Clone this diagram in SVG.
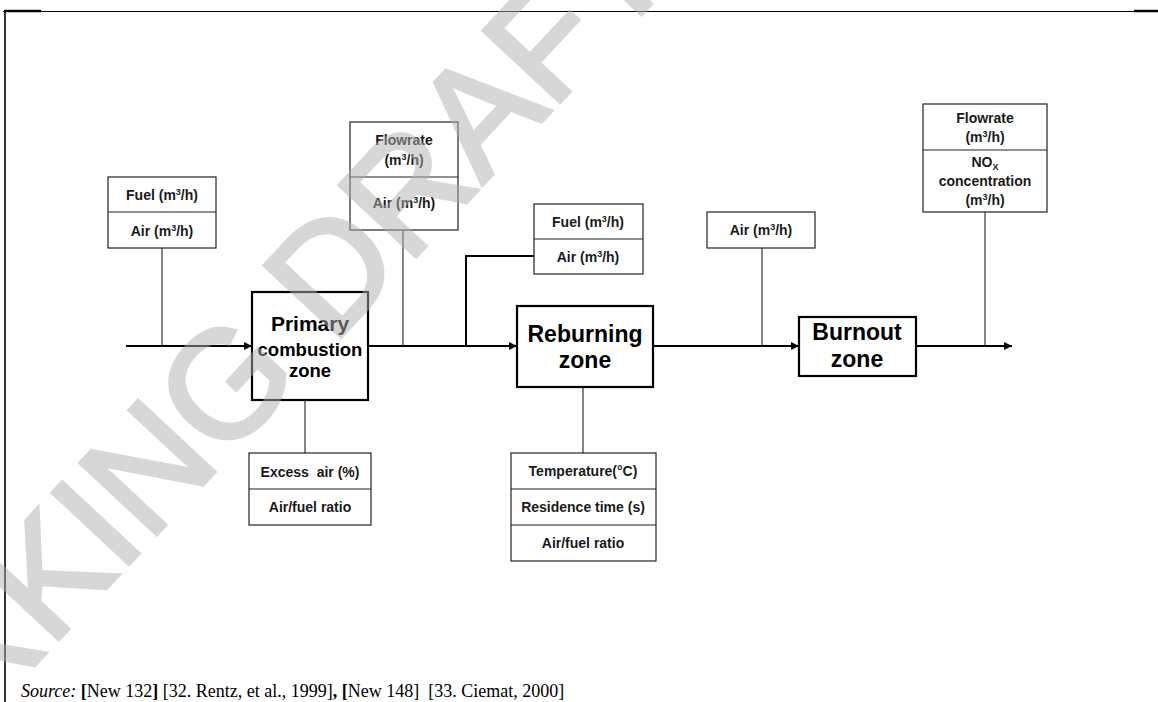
<svg xmlns="http://www.w3.org/2000/svg" width="1158" height="702" viewBox="0 0 1158 702">
<defs>
<marker id="arr" viewBox="0 0 10 10" refX="10" refY="5" markerWidth="10" markerHeight="8" markerUnits="userSpaceOnUse" orient="auto">
<path d="M0,0 L10,5 L0,10 z" fill="#000"/>
</marker>
<style>
.box{fill:#fff;stroke:#222;stroke-width:1.2}
.zone{fill:#fff;stroke:#000;stroke-width:2.2}
.div{stroke:#222;stroke-width:1.2}
.t{font-family:"Liberation Sans",Arial,sans-serif;font-weight:bold;font-size:14px;fill:#1a1a1a;text-anchor:middle}
.z{font-family:"Liberation Sans",Arial,sans-serif;font-weight:bold;fill:#000;text-anchor:middle}
.sup{font-size:9px}
.main{stroke:#000;stroke-width:2;fill:none}
.thin{stroke:#222;stroke-width:1.1;fill:none}
.thick{stroke:#000;stroke-width:2;fill:none}
.wm{font-family:"Liberation Sans",Arial,sans-serif;font-size:152px;fill:#b0b0b0;stroke:#b0b0b0;stroke-width:4;opacity:0.5}
</style>
</defs>
<rect width="1158" height="702" fill="#fff"/>
<g id="frame">
<line x1="3" y1="11.5" x2="1158" y2="11.5" stroke="#000" stroke-width="1.2"/>
<line x1="4" y1="11" x2="41" y2="11" stroke="#000" stroke-width="2.5"/>
<line x1="1134" y1="11" x2="1158" y2="11" stroke="#000" stroke-width="2.5"/>
<line x1="5" y1="11" x2="5" y2="702" stroke="#000" stroke-width="1.6"/>
</g>
<g id="connectors">
<line class="main" x1="126" y1="346" x2="252" y2="346" marker-end="url(#arr)"/>
<line class="main" x1="368" y1="346" x2="517" y2="346" marker-end="url(#arr)"/>
<line class="main" x1="653" y1="346" x2="799" y2="346" marker-end="url(#arr)"/>
<line class="main" x1="916" y1="346" x2="1012" y2="346" marker-end="url(#arr)"/>
<line class="thin" x1="162" y1="248" x2="162" y2="346"/>
<line class="thin" x1="403" y1="230" x2="403" y2="346"/>
<polyline class="thick" points="534,256 466,256 466,346"/>
<line class="thin" x1="762" y1="248" x2="762" y2="346"/>
<line class="thin" x1="985" y1="212" x2="985" y2="346"/>
<line class="thin" x1="305" y1="400" x2="305" y2="453"/>
<line class="thin" x1="583" y1="387" x2="583" y2="453"/>
</g>
<g id="n-input1">
<rect class="box" x="108" y="177" width="108" height="71"/>
<line class="div" x1="108" y1="212" x2="216" y2="212"/>
<text class="t" x="162" y="200">Fuel (m<tspan class="sup" dy="-5">3</tspan><tspan dy="5">/h)</tspan></text>
<text class="t" x="162" y="236">Air (m<tspan class="sup" dy="-5">3</tspan><tspan dy="5">/h)</tspan></text>
</g>
<g id="n-primary">
<rect class="zone" x="252" y="292" width="116" height="108"/>
<text class="z" x="310" y="331" font-size="21">Primary</text>
<text class="z" x="310" y="356" font-size="18.5">combustion</text>
<text class="z" x="310" y="377" font-size="18.5">zone</text>
</g>
<g id="n-flow1">
<rect class="box" x="350" y="122" width="108" height="108"/>
<line class="div" x1="350" y1="177" x2="458" y2="177"/>
<text class="t" x="404" y="145">Flowrate</text>
<text class="t" x="404" y="165">(m<tspan class="sup" dy="-5">3</tspan><tspan dy="5">/h)</tspan></text>
<text class="t" x="404" y="208">Air (m<tspan class="sup" dy="-5">3</tspan><tspan dy="5">/h)</tspan></text>
</g>
<g id="n-input2">
<rect class="box" x="534" y="204" width="109" height="70"/>
<line class="div" x1="534" y1="239" x2="643" y2="239"/>
<text class="t" x="588" y="227">Fuel (m<tspan class="sup" dy="-5">3</tspan><tspan dy="5">/h)</tspan></text>
<text class="t" x="588" y="262">Air (m<tspan class="sup" dy="-5">3</tspan><tspan dy="5">/h)</tspan></text>
</g>
<g id="n-reburning">
<rect class="zone" x="517" y="306" width="136" height="81"/>
<text class="z" x="585" y="342" font-size="23">Reburning</text>
<text class="z" x="585" y="368" font-size="23">zone</text>
</g>
<g id="n-air3">
<rect class="box" x="707" y="212" width="108" height="36"/>
<text class="t" x="761" y="235">Air (m<tspan class="sup" dy="-5">3</tspan><tspan dy="5">/h)</tspan></text>
</g>
<g id="n-burnout">
<rect class="zone" x="799" y="317" width="117" height="59"/>
<text class="z" x="857" y="340" font-size="23">Burnout</text>
<text class="z" x="857" y="367" font-size="23">zone</text>
</g>
<g id="n-output">
<rect class="box" x="923" y="104" width="124" height="108"/>
<line class="div" x1="923" y1="150" x2="1047" y2="150"/>
<text class="t" x="985" y="123">Flowrate</text>
<text class="t" x="985" y="142">(m<tspan class="sup" dy="-5">3</tspan><tspan dy="5">/h)</tspan></text>
<text class="t" x="985" y="167">NO<tspan class="sup" dy="3">X</tspan></text>
<text class="t" x="985" y="186">concentration</text>
<text class="t" x="985" y="205">(m<tspan class="sup" dy="-5">3</tspan><tspan dy="5">/h)</tspan></text>
</g>
<g id="n-excess">
<rect class="box" x="249" y="453" width="122" height="72"/>
<line class="div" x1="249" y1="489" x2="371" y2="489"/>
<text class="t" x="310" y="477">Excess&#160; air (%)</text>
<text class="t" x="310" y="512">Air/fuel ratio</text>
</g>
<g id="n-temp">
<rect class="box" x="511" y="453" width="145" height="108"/>
<line class="div" x1="511" y1="489" x2="656" y2="489"/>
<line class="div" x1="511" y1="525" x2="656" y2="525"/>
<text class="t" x="583" y="476">Temperature(°C)</text>
<text class="t" x="583" y="512">Residence time (s)</text>
<text class="t" x="583" y="548">Air/fuel ratio</text>
</g>
<g id="source">
<text x="21" y="697" font-family="'Liberation Serif','Times New Roman',serif" font-size="18" fill="#000"><tspan font-style="italic">Source:</tspan> <tspan font-weight="bold">[</tspan>New 132<tspan font-weight="bold">]</tspan> [32. Rentz, et al., 1999]<tspan font-weight="bold">, [</tspan>New 148]&#160; [33. Ciemat, 2000]</text>
</g>
<g id="watermark">
<text class="wm" transform="translate(-203,920) rotate(-47)">WORKING DRAFT</text>
</g>
</svg>
